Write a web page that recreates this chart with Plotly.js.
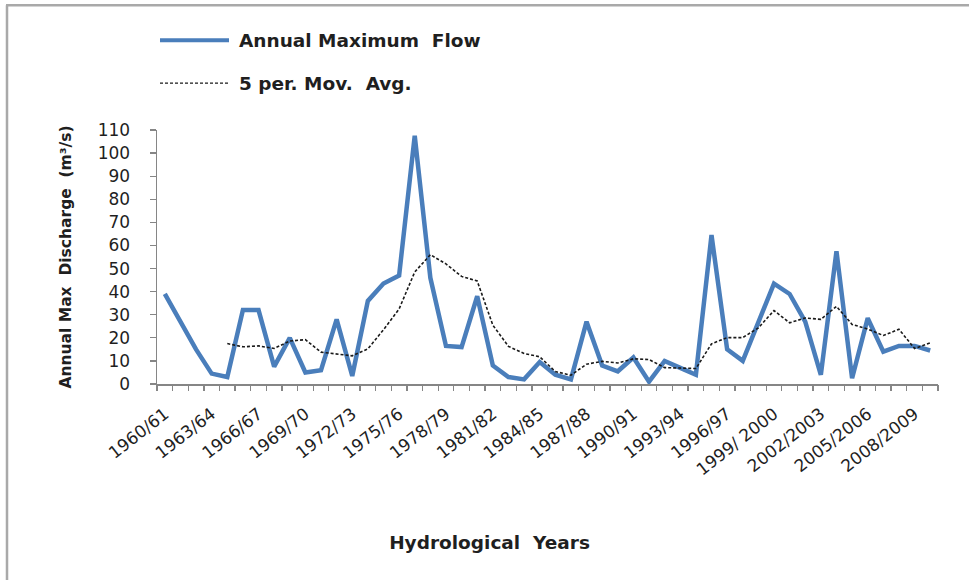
<!DOCTYPE html>
<html>
<head>
<meta charset="utf-8">
<script src="https://cdn.plot.ly/plotly-3.0.1.min.js"></script>
<style>html,body{margin:0;padding:0;background:#fff;}#chart{width:969px;height:580px;}</style>
</head>
<body>
<div id="chart"></div>
<script>
const years = ["1960/61","1961/62","1962/63","1963/64","1964/65","1965/66","1966/67","1967/68","1968/69","1969/70",
  "1970/71","1971/72","1972/73","1973/74","1974/75","1975/76","1976/77","1977/78","1978/79","1979/80",
  "1980/81","1981/82","1982/83","1983/84","1984/85","1985/86","1986/87","1987/88","1988/89","1989/90",
  "1990/91","1991/92","1992/93","1993/94","1994/95","1995/96","1996/97","1997/98","1998/99","1999/ 2000",
  "2000/2001","2001/2002","2002/2003","2003/2004","2004/2005","2005/2006","2006/2007","2007/2008","2008/2009","2009/2010"];

const annualMaxFlow = [39,27,15,4.5,3,32,32,7.5,20,5,
  6,28,3.5,36,43.5,47,107.5,46,16.5,16,
  38,8,3,2,9.5,4,2,27,8,5.5,
  11.5,1,10,7,4,64.5,15,10,27,43.5,
  39,27,4,57.5,2.5,28.5,14,16.5,16.5,14.5];

const movAvg5 = [null,null,null,null,17.5,16.1,16.5,15.4,18.6,19.2,
  13.8,12.9,12.2,15.2,23.5,32.5,48.5,56,52,46.6,
  44.6,25.5,16.3,13.2,11.8,5.4,3.8,8.6,9.8,9.1,
  10.9,10.6,7.1,6.9,6.7,17.4,20.1,20.1,24.3,31.8,
  26.5,28.6,28,33.6,25.8,23.8,21,23.7,15.4,17.8];

const shownLabels = ["1960/61","1963/64","1966/67","1969/70","1972/73","1975/76","1978/79","1981/82","1984/85",
  "1987/88","1990/91","1993/94","1996/97","1999/ 2000","2002/2003","2005/2006","2008/2009"];

const yTicks = [0,10,20,30,40,50,60,70,80,90,100,110];

const W = 969, H = 580;
const M = {l:157, r:31, t:130, b:195.5};
const pw = W - M.l - M.r, ph = H - M.t - M.b;
const px = x => (x - M.l) / pw;
const py = y => (H - M.b - y) / ph;

const font = "DejaVu Sans, Verdana, sans-serif";
const txt = "#1f1f1f";
const pad = "&nbsp;".repeat(18);

const traces = [
  {x: years, y: annualMaxFlow, type: "scatter", mode: "lines", name: "Annual Maximum  Flow",
   line: {color: "#4a7ebb", width: 4.5}, showlegend: false, xaxis: "x", yaxis: "y"},
  {x: years, y: movAvg5, type: "scatter", mode: "lines", name: "5 per. Mov. Avg.",
   line: {color: "#1a1a1a", width: 1.6, dash: "3px,2px"}, showlegend: false, connectgaps: false,
   xaxis: "x2", yaxis: "y"}
];

const layout = {
  width: W, height: H,
  margin: M,
  paper_bgcolor: "#ffffff", plot_bgcolor: "#ffffff",
  font: {family: font, color: txt, size: 16},
  showlegend: false,
  xaxis: {
    type: "category", categoryorder: "array", categoryarray: years,
    range: [-0.5, 49.5], fixedrange: true,
    tickvals: shownLabels, ticks: "",
    showline: true, linecolor: "#868686", linewidth: 1.5,
    showgrid: false, zeroline: false, tickangle: -38, ticklabelstandoff: 12,
    tickfont: {family: font, size: 17, color: txt},
    title: {text: "Hydrological  Years" + pad, standoff: 57,
            font: {family: font, size: 18.5, color: txt, weight: "bold"}}
  },
  xaxis2: {
    type: "category", categoryorder: "array", categoryarray: years,
    overlaying: "x", side: "bottom", anchor: "y",
    range: [-0.5, 49.5], fixedrange: true,
    tickvals: years, tickson: "boundaries", showticklabels: false,
    ticks: "outside", ticklen: 6, tickwidth: 1.3, tickcolor: "#868686",
    showline: false, showgrid: false, zeroline: false
  },
  yaxis: {
    range: [0, 110], tickvals: yTicks, fixedrange: true,
    ticks: "outside", ticklen: 6, tickwidth: 1.3, tickcolor: "#868686",
    showline: true, linecolor: "#868686", linewidth: 1.5,
    showgrid: false, zeroline: false, ticklabelstandoff: 16,
    tickfont: {family: font, size: 17, color: txt},
    title: {text: "Annual Max  Discharge  (m³/s)", standoff: 22,
            font: {family: font, size: 15.5, color: txt, weight: "bold"}}
  },
  shapes: [
    {type: "line", xref: "paper", yref: "paper", x0: px(7), x1: px(7), y0: py(5), y1: py(585),
     line: {color: "#a9a9a9", width: 2.5}},
    {type: "line", xref: "paper", yref: "paper", x0: px(6), x1: px(975), y0: py(5), y1: py(5),
     line: {color: "#a9a9a9", width: 2.5}},
    {type: "line", xref: "paper", yref: "paper", x0: px(160), x1: px(229), y0: py(40), y1: py(40),
     line: {color: "#4a7ebb", width: 4}},
    {type: "line", xref: "paper", yref: "paper", x0: px(160), x1: px(229), y0: py(83), y1: py(83),
     line: {color: "#1a1a1a", width: 1.4, dash: "3px,2px"}}
  ],
  annotations: [
    {xref: "paper", yref: "paper", x: px(237), y: py(40), xanchor: "left", yanchor: "middle",
     text: "Annual Maximum  Flow", showarrow: false, font: {family: font, size: 18.5, color: txt, weight: "bold"}},
    {xref: "paper", yref: "paper", x: px(237), y: py(83), xanchor: "left", yanchor: "middle",
     text: "5 per. Mov.  Avg.", showarrow: false, font: {family: font, size: 18.5, color: txt, weight: "bold"}}
  ]
};

Plotly.newPlot("chart", traces, layout, {displayModeBar: false, staticPlot: true});
</script>
</body>
</html>
